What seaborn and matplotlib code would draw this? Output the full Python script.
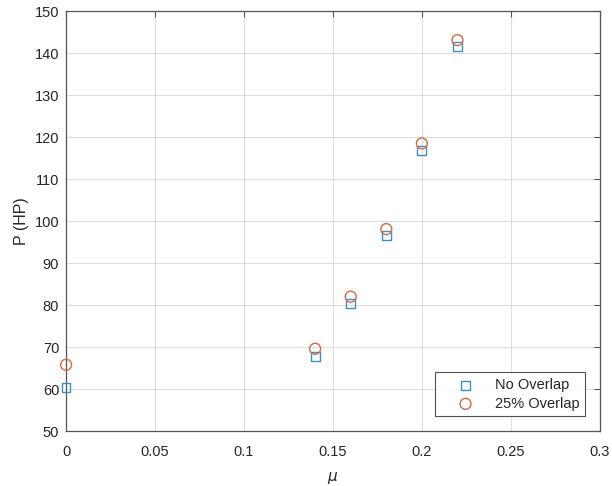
import matplotlib
matplotlib.use("Agg")
import matplotlib.pyplot as plt
import seaborn as sns
import numpy as np
import pandas as pd

# data
mu = [0.0, 0.14, 0.16, 0.18, 0.20, 0.22]
p_no_overlap = [60.4, 67.8, 80.3, 96.6, 116.9, 141.5]
p_25_overlap = [65.8, 69.6, 82.0, 98.1, 118.5, 143.1]

xticks = [0, 0.05, 0.1, 0.15, 0.2, 0.25, 0.3]
xtick_labels = ["0", "0.05", "0.1", "0.15", "0.2", "0.25", "0.3"]
yticks = list(range(50, 151, 10))

sns.set_style("white")
plt.rcParams["font.family"] = ["Liberation Sans", "DejaVu Sans"]

fig = plt.figure(figsize=(6.12, 4.86), dpi=100)
ax = fig.add_axes([0.108, 0.113, 0.872, 0.864])

blue = "#3592cb"
orange = "#d9683a"

sns.scatterplot(ax=ax, x=mu, y=p_no_overlap, marker="s", s=40,
                color=blue, facecolors="none", edgecolor=blue,
                linewidth=1.0, label="No Overlap", zorder=3, clip_on=False)
sns.scatterplot(ax=ax, x=mu, y=p_25_overlap, marker="o", s=62,
                color=orange, facecolors="none", edgecolor=orange,
                linewidth=1.0, label="25% Overlap", zorder=3, clip_on=False)

ax.set_xlim(0, 0.3)
ax.set_ylim(50, 150)
ax.set_xticks(xticks)
ax.set_xticklabels(xtick_labels)
ax.set_yticks(yticks)

ax.grid(True, color="#dcdcdc", linewidth=0.7)
ax.set_axisbelow(True)
for s in ax.spines.values():
    s.set_color("#555555")
    s.set_linewidth(0.9)
ax.tick_params(direction="in", length=4, width=0.8, color="#555555",
               labelsize=10.5, labelcolor="#262626",
               top=True, right=True, pad=5)
ax.tick_params(axis="x", pad=10)

ax.set_xlabel(r"$\mu$", fontsize=11, color="#262626", labelpad=8)
ax.set_ylabel("P (HP)", fontsize=11.5, color="#262626")

leg = ax.legend(loc="lower right", fontsize=10.5, frameon=True,
                fancybox=False, borderaxespad=1.0, handletextpad=0.3,
                borderpad=0.4, labelspacing=0.3, handlelength=3.4)
leg.get_frame().set_edgecolor("#262626")
leg.get_frame().set_linewidth(0.8)

fig.savefig("out.png", dpi=100)
